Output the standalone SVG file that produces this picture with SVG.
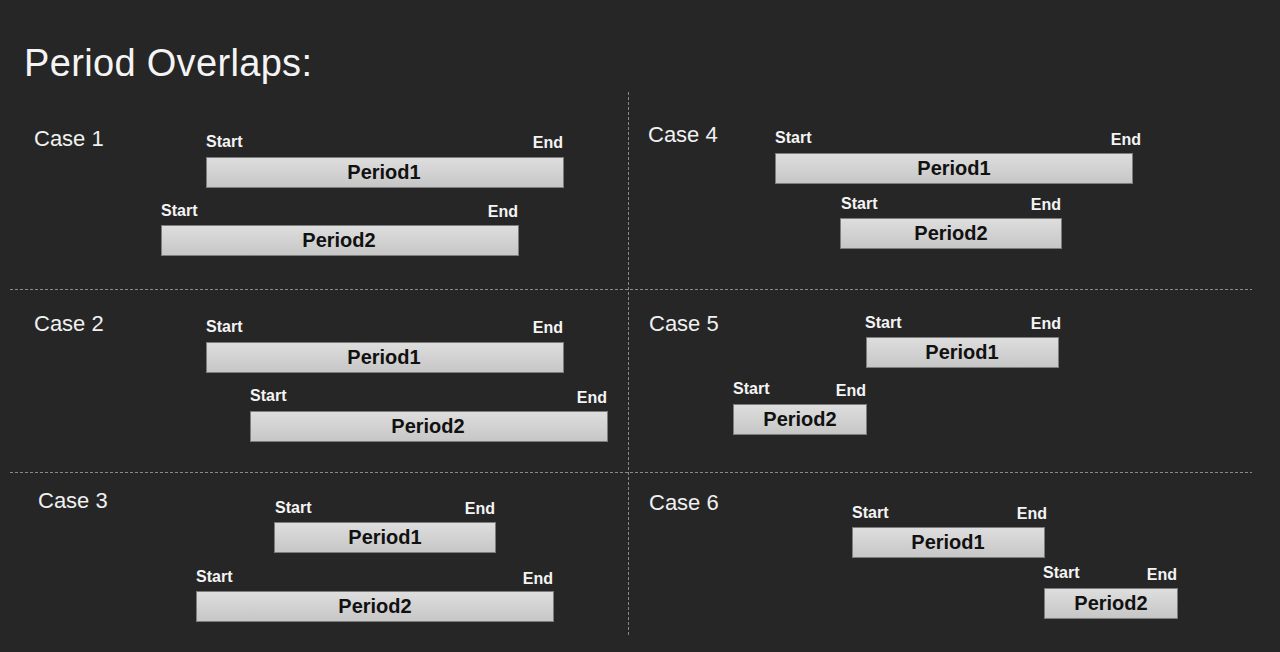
<svg xmlns="http://www.w3.org/2000/svg" width="1280" height="652" viewBox="0 0 1280 652">
<defs>
<linearGradient id="barg" x1="0" y1="0" x2="0" y2="1">
<stop offset="0" stop-color="#dedede"/>
<stop offset="1" stop-color="#c6c6c6"/>
</linearGradient>
<style>
.bg{fill:#262626}
.title{font-family:"Liberation Sans",Arial,sans-serif;font-size:38px;fill:#f4f4f4}
.case{font-family:"Liberation Sans",Arial,sans-serif;font-size:22px;fill:#f0f0f0}
.se{font-family:"Liberation Sans",Arial,sans-serif;font-size:16px;font-weight:bold;fill:#f4f4f4}
.end{text-anchor:end}
.bar{fill:url(#barg);stroke:#7d7d7d;stroke-width:1}
.pl{font-family:"Liberation Sans",Arial,sans-serif;font-size:20px;font-weight:bold;fill:#111;text-anchor:middle}
.div{stroke:#8a8a8a;stroke-width:1;stroke-dasharray:3 2;fill:none}
</style>
</defs>
<rect class="bg" x="0" y="0" width="1280" height="652"/>
<text class="title" x="24" y="76" textLength="288" lengthAdjust="spacing">Period Overlaps:</text>

<g id="dividers">
<line class="div" x1="628.5" y1="92" x2="628.5" y2="636"/>
<line class="div" x1="10" y1="289.5" x2="1252" y2="289.5"/>
<line class="div" x1="10" y1="472.5" x2="1252" y2="472.5"/>
</g>

<g id="case1">
<text class="case" x="34" y="146">Case 1</text>
<g id="c1p1">
<text class="se" x="206" y="147">Start</text>
<text class="se end" x="563" y="148">End</text>
<rect class="bar" x="206.5" y="157.5" width="357" height="30"/>
<text class="pl" x="384" y="179">Period1</text>
</g>
<g id="c1p2">
<text class="se" x="161" y="216">Start</text>
<text class="se end" x="518" y="217">End</text>
<rect class="bar" x="161.5" y="225.5" width="357" height="30"/>
<text class="pl" x="339" y="247">Period2</text>
</g>
</g>

<g id="case2">
<text class="case" x="34" y="331">Case 2</text>
<g id="c2p1">
<text class="se" x="206" y="332">Start</text>
<text class="se end" x="563" y="333">End</text>
<rect class="bar" x="206.5" y="342.5" width="357" height="30"/>
<text class="pl" x="384" y="364">Period1</text>
</g>
<g id="c2p2">
<text class="se" x="250" y="401">Start</text>
<text class="se end" x="607" y="403">End</text>
<rect class="bar" x="250.5" y="411.5" width="357" height="30"/>
<text class="pl" x="428" y="433">Period2</text>
</g>
</g>

<g id="case3">
<text class="case" x="38" y="508">Case 3</text>
<g id="c3p1">
<text class="se" x="275" y="513">Start</text>
<text class="se end" x="495" y="514">End</text>
<rect class="bar" x="274.5" y="522.5" width="221" height="30"/>
<text class="pl" x="385" y="544">Period1</text>
</g>
<g id="c3p2">
<text class="se" x="196" y="582">Start</text>
<text class="se end" x="553" y="584">End</text>
<rect class="bar" x="196.5" y="591.5" width="357" height="30"/>
<text class="pl" x="375" y="613">Period2</text>
</g>
</g>

<g id="case4">
<text class="case" x="648" y="142">Case 4</text>
<g id="c4p1">
<text class="se" x="775" y="143">Start</text>
<text class="se end" x="1141" y="145">End</text>
<rect class="bar" x="775.5" y="153.5" width="357" height="30"/>
<text class="pl" x="954" y="175">Period1</text>
</g>
<g id="c4p2">
<text class="se" x="841" y="209">Start</text>
<text class="se end" x="1061" y="210">End</text>
<rect class="bar" x="840.5" y="218.5" width="221" height="30"/>
<text class="pl" x="951" y="240">Period2</text>
</g>
</g>

<g id="case5">
<text class="case" x="649" y="331">Case 5</text>
<g id="c5p1">
<text class="se" x="865" y="328">Start</text>
<text class="se end" x="1061" y="329">End</text>
<rect class="bar" x="866.5" y="337.5" width="192" height="30"/>
<text class="pl" x="962" y="359">Period1</text>
</g>
<g id="c5p2">
<text class="se" x="733" y="394">Start</text>
<text class="se end" x="866" y="396">End</text>
<rect class="bar" x="733.5" y="404.5" width="133" height="30"/>
<text class="pl" x="800" y="426">Period2</text>
</g>
</g>

<g id="case6">
<text class="case" x="649" y="510">Case 6</text>
<g id="c6p1">
<text class="se" x="852" y="518">Start</text>
<text class="se end" x="1047" y="519">End</text>
<rect class="bar" x="852.5" y="527.5" width="192" height="30"/>
<text class="pl" x="948" y="549">Period1</text>
</g>
<g id="c6p2">
<text class="se" x="1043" y="578">Start</text>
<text class="se end" x="1177" y="580">End</text>
<rect class="bar" x="1044.5" y="588.5" width="133" height="30"/>
<text class="pl" x="1111" y="610">Period2</text>
</g>
</g>
</svg>
